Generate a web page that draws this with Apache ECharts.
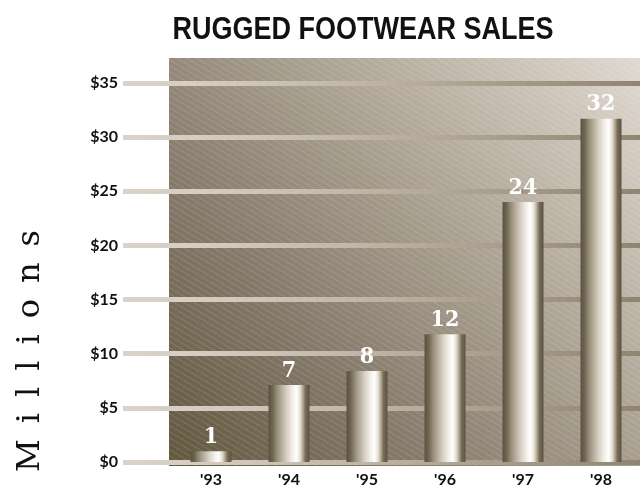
<!DOCTYPE html>
<html>
<head>
<meta charset="utf-8">
<script src="https://cdn.jsdelivr.net/npm/echarts@6/dist/echarts.min.js"></script>
<style>
html,body{margin:0;padding:0;background:#fff;}
#chart{width:640px;height:489px;}
</style>
</head>
<body>
<div id="chart"></div>
<script>
// ---- data ----
var categories = ["'93", "'94", "'95", "'96", "'97", "'98"];
var salesValues = [1.0, 7.1, 8.4, 11.8, 24.0, 31.7];
var barLabels = ['1', '7', '8', '12', '24', '32'];
var yTicks = [0, 5, 10, 15, 20, 25, 30, 35];
var yMin = 0, yMax = 35, yStep = 5;
var titleText = 'RUGGED FOOTWEAR SALES';
var axisTitle = 'Millions';

// ---- helpers ----
var titleFont = 'bold 31px "Liberation Sans", Arial, sans-serif';
var mc = document.createElement('canvas').getContext('2d');
mc.font = titleFont;
var titleW = mc.measureText(titleText).width;
var titleScale = 381 / titleW;

// diagonal stripe pattern
var pw = 10, ph = 6;
var pc = document.createElement('canvas');
pc.width = pw; pc.height = ph;
var pctx = pc.getContext('2d');
pctx.strokeStyle = 'rgba(255,255,255,0.15)';
pctx.lineWidth = 1;
[-1, 0, 1].forEach(function (n) {
  pctx.beginPath();
  pctx.moveTo(-2, -2 * ph / pw + n * ph);
  pctx.lineTo(pw + 2, ph + 2 * ph / pw + n * ph);
  pctx.stroke();
});

var barGradient = {
  type: 'linear', x: 0, y: 0, x2: 1, y2: 0,
  colorStops: [
    {offset: 0, color: '#5a5240'},
    {offset: 0.1, color: '#6e6650'},
    {offset: 0.2, color: '#948a76'},
    {offset: 0.32, color: '#b6ad9c'},
    {offset: 0.45, color: '#d8d1c6'},
    {offset: 0.58, color: '#f2eee8'},
    {offset: 0.68, color: '#ffffff'},
    {offset: 0.77, color: '#e6e0d6'},
    {offset: 0.84, color: '#b0a690'},
    {offset: 0.9, color: '#776d58'},
    {offset: 1, color: '#5a5240'}
  ]
};

var gridLineGradient = {
  type: 'linear', x: 0, y: 0, x2: 1, y2: 0,
  colorStops: [
    {offset: 0, color: '#dbd3c9'},
    {offset: 0.15, color: '#d6cdc1'},
    {offset: 0.5, color: '#bdb2a2'},
    {offset: 1, color: '#8f8470'}
  ]
};

var chart = echarts.init(document.getElementById('chart'), null, {renderer: 'canvas'});
var option = {
  animation: false,
  backgroundColor: '#ffffff',
  grid: [
    {left: 123, right: 0, top: 83, bottom: 27},
    {left: 172, width: 476, top: 83, bottom: 27}
  ],
  xAxis: [
    {gridIndex: 0, type: 'value', min: 0, max: 1, show: false},
    {
      gridIndex: 1, type: 'category', data: categories,
      axisLine: {show: false}, axisTick: {show: false},
      axisLabel: {
        margin: 10, color: '#111',
        fontFamily: 'Lato', fontWeight: 'bold', fontSize: 16
      }
    }
  ],
  yAxis: [
    {
      gridIndex: 0, type: 'value', min: yMin, max: yMax, interval: yStep,
      axisLine: {show: false}, axisTick: {show: false},
      axisLabel: {
        margin: 5, color: '#111',
        fontFamily: 'Lato', fontWeight: 'bold', fontSize: 16,
        formatter: function (v) { return yTicks.indexOf(v) >= 0 ? '$' + v : ''; }
      },
      splitLine: {show: true, lineStyle: {width: 5, color: gridLineGradient}}
    },
    {gridIndex: 1, type: 'value', min: yMin, max: yMax, interval: yStep, show: false, splitLine: {show: false}}
  ],
  series: [{
    type: 'bar',
    xAxisIndex: 1, yAxisIndex: 1,
    data: salesValues,
    barWidth: 41,
    itemStyle: {color: barGradient},
    label: {
      show: true, position: 'top', distance: 3,
      color: '#ffffff',
      fontFamily: '"DejaVu Serif Condensed", "DejaVu Serif", serif',
      fontWeight: 'bold', fontSize: 23,
      formatter: function (p) { return barLabels[p.dataIndex]; }
    }
  }],
  graphic: [
    {
      type: 'rect', z: -1, silent: true,
      shape: {x: 169, y: 58, width: 471, height: 408},
      style: {
        fill: {
          type: 'linear', x: 0, y: 1, x2: 1, y2: 0,
          colorStops: [
            {offset: 0, color: '#62573e'},
            {offset: 0.3, color: '#85796a'},
            {offset: 0.55, color: '#a59b8b'},
            {offset: 1, color: '#e0d9d0'}
          ]
        }
      }
    },
    {
      type: 'rect', z: -1, z2: 1, silent: true,
      shape: {x: 169, y: 58, width: 471, height: 408},
      style: {fill: {image: pc, repeat: 'repeat'}}
    },
    {
      type: 'text', x: 363, y: 30, scaleX: titleScale, silent: true,
      style: {
        text: titleText, font: titleFont, fill: '#111',
        textAlign: 'center', textVerticalAlign: 'middle'
      }
    },
    {
      type: 'text', x: 31, y: 351, rotation: Math.PI / 2, silent: true,
      style: {
        text: axisTitle.split('').join('\u2002'),
        font: 'normal 32px "DejaVu Serif", serif', fill: '#111',
        textAlign: 'center', textVerticalAlign: 'middle'
      }
    }
  ]
};
chart.setOption(option);
</script>
</body>
</html>
